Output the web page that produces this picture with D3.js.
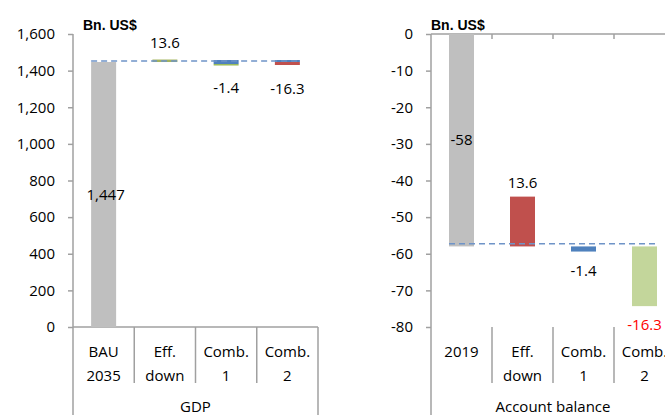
<!DOCTYPE html>
<html><head><meta charset="utf-8">
<script src="https://cdn.jsdelivr.net/npm/d3@7"></script>
<style>
body{margin:0;background:#fff;}
text{font-family:"Open Sans",sans-serif;font-size:15px;fill:#000;}
</style></head>
<body><svg id="c" width="665" height="415"></svg>
<script>
// ---- data ----
const unitLabel = "Bn. US$";
const gdpGroup = "GDP";
const gdpCats = [["BAU","2035"],["Eff.","down"],["Comb.","1"],["Comb.","2"]];
const gdpBase = 1447;
const gdpChanges = [13.6, -1.4, -16.3];
const gdpTicks = [0,200,400,600,800,1000,1200,1400,1600];
const gdpRef = 1452;

const abGroup = "Account balance";
const abCats = [["2019"],["Eff.","down"],["Comb.","1"],["Comb.","2"]];
const abBase = -58;
const abChanges = [13.6, -1.4, -16.3];
const abTicks = [0,-10,-20,-30,-40,-50,-60,-70,-80];
const abRef = -57.3;

const svg = d3.select("#c");
const axisCol = "#a0a0a0";
const plotTop = 34, plotBottom = 327;
const fmt = d3.formatLocale({decimal:".", thousands:",", grouping:[3], currency:["$",""], minus:"-"}).format(",");

function panel(o){
  const g = svg.append("g");
  const y = d3.scaleLinear().domain(o.domain).range([plotBottom, plotTop]);
  const x = d3.scaleBand().domain(o.cats.map((d,i)=>i)).range([o.x0, o.x1]).paddingInner(0).paddingOuter(0);
  const bw = 25;
  const cx = i => x(i) + x.bandwidth()/2;

  // y axis
  const ya = d3.axisLeft(y).tickValues(o.ticks).tickSize(5).tickPadding(13).tickFormat(fmt);
  const ag = g.append("g").attr("transform",`translate(${o.x0},0)`).call(ya);
  ag.select(".domain").remove();
  ag.selectAll(".tick line").attr("stroke",axisCol).attr("stroke-width",1.5);
  ag.selectAll(".tick text").style("font-size","15px").style("font-family","'Open Sans',sans-serif").attr("fill","#000");
  g.append("line").attr("x1",o.x0).attr("x2",o.x0).attr("y1",plotTop).attr("y2",415)
    .attr("stroke",axisCol).attr("stroke-width",1.5);
  // category axis line at value
  g.append("line").attr("x1",o.x0).attr("x2",o.x1).attr("y1",y(o.axisAt)).attr("y2",y(o.axisAt))
    .attr("stroke",axisCol).attr("stroke-width",1.5);
  if(o.catTicks){
    o.cats.forEach((d,i)=>{ if(i>0) g.append("line").attr("x1",x(i)).attr("x2",x(i))
      .attr("y1",y(o.axisAt)).attr("y2",y(o.axisAt)+5).attr("stroke",axisCol).attr("stroke-width",1.5);});
  }
  // bottom category boxes
  o.cats.forEach((d,i)=>{
    if(i>0) g.append("line").attr("x1",x(i)).attr("x2",x(i)).attr("y1",plotBottom).attr("y2",383)
      .attr("stroke",axisCol).attr("stroke-width",1.5);
    const t = g.append("text").attr("text-anchor","middle").attr("x",cx(i));
    if(d.length===1){
      t.attr("y",357).text(d[0]);
    } else {
      t.append("tspan").attr("x",cx(i)).attr("y",357).text(d[0]);
      t.append("tspan").attr("x",cx(i)).attr("y",381).text(d[1]);
    }
  });
  g.append("line").attr("x1",o.x1).attr("x2",o.x1).attr("y1",plotBottom).attr("y2",415)
    .attr("stroke",axisCol).attr("stroke-width",1.5);
  g.append("text").attr("text-anchor","middle").attr("x",(o.x0+o.x1)/2).attr("y",412).text(o.group);

  // base bar
  g.append("rect").attr("x",cx(0)-bw/2).attr("width",bw)
    .attr("y",y(Math.max(0,o.base))).attr("height",Math.abs(y(o.base)-y(0)))
    .attr("fill","#bfbfbf");
  g.append("text").attr("text-anchor","middle").attr("x",cx(0)+o.baseLabelDx)
    .attr("y",y(o.base/2)+5).text(fmt(o.base));

  // change bars
  o.changes.forEach((c,k)=>{
    const i = k+1;
    const a = y(o.base), b = y(o.base+c);
    const y0 = Math.min(a,b), h = Math.max(Math.abs(a-b), o.minH);
    if(o.accentAbove[k]) g.append("rect").attr("x",cx(i)-bw/2).attr("width",bw)
      .attr("y",a-2).attr("height",2).attr("fill",o.accentAbove[k]);
    g.append("rect").attr("x",cx(i)-bw/2).attr("width",bw)
      .attr("y",y0).attr("height",h).attr("fill",o.colors[k]);
    if(o.accentBelow[k]) g.append("rect").attr("x",cx(i)-bw/2).attr("width",bw)
      .attr("y",y0+h).attr("height",1.5).attr("fill",o.accentBelow[k]);
    const ly = c>0 ? y0 - o.labAbove : y0 + h + o.labBelow;
    g.append("text").attr("text-anchor","middle").attr("x",cx(i)).attr("y",ly+5)
      .style("fill",o.labColors[k]).text(String(c));
  });

  // reference dashed line
  g.append("line").attr("x1",cx(0)-bw/2).attr("x2",cx(o.cats.length-1)+bw/2)
    .attr("y1",y(o.ref)).attr("y2",y(o.ref))
    .attr("stroke","#6f94c8").attr("stroke-width",1.5).attr("stroke-dasharray","6,4");

  g.append("text").attr("x",o.unitX).attr("y",30).style("font-weight","bold")
    .style("font-size","14px").style("font-family","'Liberation Sans',Arial,sans-serif").text(unitLabel);
}

panel({cats:gdpCats, group:gdpGroup, domain:[0,1600], ticks:gdpTicks, x0:73, x1:318,
  base:gdpBase, changes:gdpChanges, ref:gdpRef, axisAt:0, catTicks:false,
  colors:["#a3b35c","#4f81bd","#c0504d"], accentAbove:[null,"#4f81bd","#4f81bd"],
  accentBelow:[null,"#9bbb59",null], labColors:["#000","#000","#000"],
  minH:2, labAbove:17, labBelow:24, baseLabelDx:2, unitX:83});

panel({cats:abCats, group:abGroup, domain:[-80,0], ticks:abTicks, x0:431, x1:675,
  base:abBase, changes:abChanges, ref:abRef, axisAt:0, catTicks:true,
  colors:["#c0504d","#4f81bd","#c3d69b"], accentAbove:[null,null,null],
  accentBelow:[null,null,null], labColors:["#000","#000","#ff0000"],
  minH:2, labAbove:14, labBelow:19, baseLabelDx:0, unitX:431});
</script></body></html>
